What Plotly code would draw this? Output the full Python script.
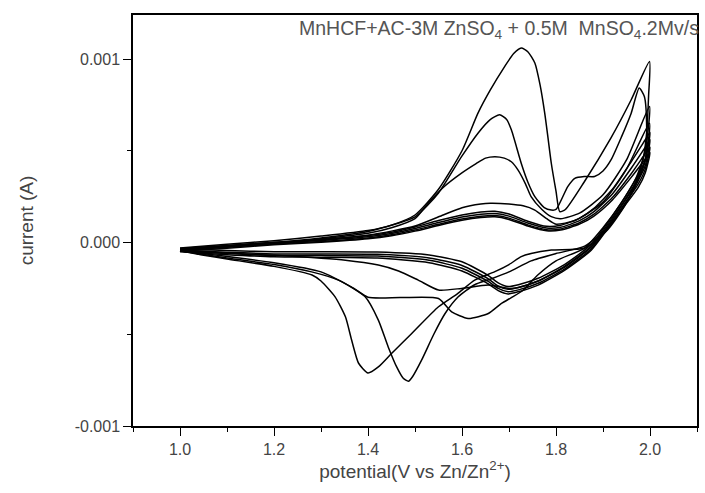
import numpy as np
import plotly.graph_objects as go

# Cyclic voltammetry of MnHCF + AC in 3M ZnSO4 + 0.5M MnSO4, 2 mV/s.
# Potentials in V vs Zn/Zn2+, currents in mA (converted to A when plotted).

# ---- cycle 1 ----
c1_anodic_v = [1.00, 1.10, 1.20, 1.30, 1.40, 1.45, 1.50, 1.55, 1.60, 1.634, 1.66, 1.691, 1.71,
               1.726, 1.74, 1.755, 1.766, 1.776, 1.783, 1.79, 1.80, 1.808, 1.82, 1.86, 1.917,
               1.96, 1.999]
c1_anodic_i = [-0.03, -0.01, 0.01, 0.035, 0.065, 0.095, 0.15, 0.29, 0.50, 0.705, 0.83, 0.96, 1.03,
               1.06, 1.04, 0.978, 0.86, 0.705, 0.57, 0.432, 0.28, 0.168, 0.18, 0.33, 0.57,
               0.778, 0.987]
c1_cathodic_v = [1.997, 1.993, 1.985, 1.97, 1.946, 1.91, 1.861, 1.79, 1.747, 1.726, 1.70, 1.67,
                 1.627, 1.59, 1.55, 1.493, 1.45, 1.422, 1.40, 1.38, 1.365, 1.352, 1.33, 1.30,
                 1.281, 1.20, 1.10, 1.047, 1.00]
c1_cathodic_i = [0.80, 0.60, 0.45, 0.33, 0.20, 0.07, -0.03, -0.041, -0.06, -0.077, -0.12, -0.159,
                 -0.205, -0.28, -0.35, -0.496, -0.605, -0.678, -0.711, -0.658, -0.53, -0.405,
                 -0.296, -0.21, -0.177, -0.13, -0.09, -0.068, -0.045]

# ---- cycle 2 ----
c2_anodic_v = [1.00, 1.20, 1.30, 1.40, 1.50, 1.55, 1.599, 1.634, 1.66, 1.68, 1.695, 1.705, 1.726,
               1.74, 1.755, 1.775, 1.79, 1.80, 1.825, 1.84, 1.86, 1.882, 1.90, 1.917, 1.94, 1.96,
               1.977, 1.988]
c2_anodic_i = [-0.035, 0.0, 0.025, 0.06, 0.14, 0.27, 0.468, 0.596, 0.67, 0.696, 0.67, 0.614, 0.432,
               0.33, 0.25, 0.19, 0.177, 0.18, 0.305, 0.35, 0.36, 0.36, 0.39, 0.45, 0.58, 0.705,
               0.842, 0.796]
c2_cathodic_v = [1.993, 1.99, 1.975, 1.95, 1.91, 1.861, 1.80, 1.747, 1.70, 1.66, 1.627, 1.592,
                 1.564, 1.54, 1.514, 1.495, 1.486, 1.475, 1.461, 1.443, 1.422, 1.394, 1.337, 1.28,
                 1.20, 1.10, 1.00]
c2_cathodic_i = [0.62, 0.45, 0.34, 0.22, 0.08, -0.02, -0.06, -0.10, -0.16, -0.20, -0.23, -0.296,
                 -0.387, -0.50, -0.641, -0.73, -0.756, -0.74, -0.678, -0.569, -0.423, -0.296,
                 -0.205, -0.16, -0.12, -0.085, -0.045]

# ---- cycle 3 ----
c3_anodic_v = [1.00, 1.20, 1.30, 1.40, 1.45, 1.50, 1.528, 1.56, 1.599, 1.63, 1.65, 1.67, 1.69,
               1.705, 1.719, 1.735, 1.747, 1.77, 1.79, 1.81, 1.85, 1.90, 1.95, 1.999]
c3_anodic_i = [-0.04, -0.005, 0.02, 0.05, 0.08, 0.13, 0.214, 0.30, 0.378, 0.43, 0.46, 0.468, 0.46,
               0.44, 0.396, 0.32, 0.25, 0.18, 0.141, 0.13, 0.16, 0.26, 0.45, 0.741]
c3_cathodic_v = [1.99, 1.97, 1.94, 1.90, 1.861, 1.80, 1.76, 1.73, 1.705, 1.684, 1.656, 1.613,
                 1.578, 1.55, 1.47, 1.40, 1.37, 1.30, 1.20, 1.00]
c3_cathodic_i = [0.50, 0.35, 0.22, 0.08, -0.03, -0.10, -0.18, -0.26, -0.30, -0.332, -0.387, -0.414,
                 -0.378, -0.305, -0.30, -0.298, -0.25, -0.16, -0.11, -0.045]

# ---- cycle 4 ----
c4_anodic_v = [1.00, 1.20, 1.40, 1.50, 1.56, 1.60, 1.64, 1.66, 1.70, 1.73, 1.755, 1.78, 1.80,
               1.84, 1.90, 1.95, 1.999]
c4_anodic_i = [-0.04, -0.005, 0.04, 0.09, 0.15, 0.19, 0.21, 0.214, 0.21, 0.20, 0.177, 0.13, 0.10,
               0.12, 0.22, 0.40, 0.65]
c4_cathodic_v = [1.99, 1.97, 1.946, 1.91, 1.875, 1.818, 1.762, 1.72, 1.70, 1.656, 1.599, 1.55,
                 1.507, 1.465, 1.422, 1.352, 1.20, 1.00]
c4_cathodic_i = [0.45, 0.33, 0.23, 0.10, -0.02, -0.13, -0.21, -0.245, -0.25, -0.232, -0.25, -0.259,
                 -0.205, -0.155, -0.123, -0.096, -0.07, -0.045]

# ---- cycles 5-8 (stabilised) share one potential grid ----
late_anodic_v = [1.00, 1.10, 1.20, 1.30, 1.40, 1.45, 1.50, 1.55, 1.60, 1.64, 1.67, 1.70, 1.74,
                 1.78, 1.81, 1.85, 1.88, 1.92, 1.96, 1.99, 2.00]
late_cathodic_v = [1.99, 1.975, 1.946, 1.91, 1.875, 1.818, 1.762, 1.72, 1.698, 1.677, 1.656, 1.60,
                   1.53, 1.42, 1.30, 1.20, 1.10, 1.00]

c5_anodic_i = [-0.032, -0.016, 0.002, 0.016, 0.038, 0.056, 0.085, 0.12, 0.15, 0.166, 0.17,
               0.155, 0.116, 0.088, 0.094, 0.132, 0.185, 0.29, 0.44, 0.56, 0.60]
c5_cathodic_i = [0.45, 0.37, 0.245, 0.11, -0.01, -0.12, -0.195, -0.23, -0.24, -0.22, -0.18,
                 -0.105, -0.068, -0.052, -0.05, -0.05, -0.044, -0.036]

c6_anodic_i = [-0.038, -0.021, -0.003, 0.011, 0.031, 0.049, 0.076, 0.109, 0.139, 0.154, 0.158,
               0.144, 0.106, 0.079, 0.083, 0.119, 0.167, 0.265, 0.405, 0.52, 0.56]
c6_cathodic_i = [0.42, 0.34, 0.225, 0.09, -0.025, -0.135, -0.21, -0.245, -0.255, -0.237, -0.198,
                 -0.125, -0.084, -0.064, -0.062, -0.062, -0.053, -0.042]

c7_anodic_i = [-0.043, -0.026, -0.008, 0.006, 0.025, 0.042, 0.068, 0.099, 0.128, 0.143, 0.147,
               0.133, 0.096, 0.07, 0.074, 0.108, 0.153, 0.245, 0.375, 0.485, 0.52]
c7_cathodic_i = [0.40, 0.32, 0.212, 0.082, -0.035, -0.145, -0.222, -0.258, -0.268, -0.25, -0.212,
                 -0.14, -0.097, -0.074, -0.07, -0.07, -0.06, -0.047]

c8_anodic_i = [-0.048, -0.031, -0.012, 0.001, 0.02, 0.037, 0.062, 0.093, 0.121, 0.136, 0.14,
               0.126, 0.09, 0.064, 0.068, 0.1, 0.143, 0.232, 0.355, 0.455, 0.49]
c8_cathodic_i = [0.38, 0.30, 0.2, 0.075, -0.042, -0.152, -0.232, -0.268, -0.28, -0.262, -0.226,
                 -0.155, -0.11, -0.085, -0.08, -0.078, -0.066, -0.05]

cycles = [
    (c1_anodic_v, c1_anodic_i, c1_cathodic_v, c1_cathodic_i),
    (c2_anodic_v, c2_anodic_i, c2_cathodic_v, c2_cathodic_i),
    (c3_anodic_v, c3_anodic_i, c3_cathodic_v, c3_cathodic_i),
    (c4_anodic_v, c4_anodic_i, c4_cathodic_v, c4_cathodic_i),
    (late_anodic_v, c5_anodic_i, late_cathodic_v, c5_cathodic_i),
    (late_anodic_v, c6_anodic_i, late_cathodic_v, c6_cathodic_i),
    (late_anodic_v, c7_anodic_i, late_cathodic_v, c7_cathodic_i),
    (late_anodic_v, c8_anodic_i, late_cathodic_v, c8_cathodic_i),
]

x_ticks = [1.0, 1.2, 1.4, 1.6, 1.8, 2.0]
y_ticks = [-0.001, 0.0, 0.001]
y_ticktext = ["-0.001", "0.000", "0.001"]

fig = go.Figure()
for av, ai, cv, ci in cycles:
    v = list(av) + list(cv)
    i_amp = np.array(list(ai) + list(ci)) * 1e-3
    fig.add_trace(go.Scatter(
        x=v, y=i_amp, mode="lines",
        line=dict(color="black", width=1.5, shape="spline", smoothing=0.6),
        showlegend=False, hoverinfo="skip",
    ))

font_family = "Liberation Sans, Arial, sans-serif"
text_color = "#444444"

fig.update_layout(
    width=705, height=493,
    margin=dict(l=133, r=6, t=15, b=67),
    paper_bgcolor="white", plot_bgcolor="white",
    font=dict(family=font_family, color=text_color, size=16),
    xaxis=dict(
        range=[0.9, 2.1], tickvals=x_ticks, ticktext=[f"{t:.1f}" for t in x_ticks],
        ticks="outside", ticklen=8, tickwidth=1.3, tickcolor="black",
        minor=dict(dtick=0.1, tick0=0.9, ticks="outside", ticklen=4, tickwidth=1.3,
                   tickcolor="black", showgrid=False),
        showline=True, linecolor="black", linewidth=1.5, mirror=True,
        showgrid=False, zeroline=False,
        tickfont=dict(size=16, color=text_color),
        title=dict(text="potential(V vs Zn/Zn<sup>2+</sup>)",
                   font=dict(size=19, color=text_color), standoff=6),
    ),
    yaxis=dict(
        range=[-0.001, 0.00124], tickvals=y_ticks, ticktext=y_ticktext,
        ticks="outside", ticklen=8, tickwidth=1.3, tickcolor="black",
        minor=dict(tickvals=[-0.0005, 0.0005], ticks="outside", ticklen=4, tickwidth=1.3,
                   tickcolor="black", showgrid=False),
        showline=True, linecolor="black", linewidth=1.5, mirror=True,
        showgrid=False, zeroline=False,
        tickfont=dict(size=16, color=text_color),
        title=dict(text="current (A)", font=dict(size=19, color=text_color), standoff=36),
    ),
    annotations=[dict(
        text="MnHCF+AC-3M ZnSO<sub>4</sub> + 0.5M  MnSO<sub>4</sub>.2Mv/s",
        xref="paper", yref="paper", x=1.0, y=1.0, xanchor="right", yanchor="top",
        xshift=4, yshift=0, showarrow=False,
        font=dict(family=font_family, size=19.5, color="#555555"),
    )],
)

fig.write_html("out.html")
